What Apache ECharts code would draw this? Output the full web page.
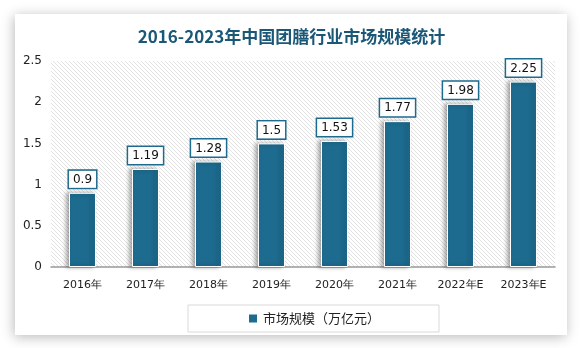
<!DOCTYPE html>
<html>
<head>
<meta charset="utf-8">
<script src="https://cdn.jsdelivr.net/npm/echarts@6/dist/echarts.min.js"></script>
<style>
  html, body { margin: 0; padding: 0; background: #ffffff; }
  #chart { width: 583px; height: 348px; }
</style>
</head>
<body>
<div id="chart"></div>
<script>
// Market size of China's group catering industry, 2016-2023 (E = estimate)
const categories = ['2016年', '2017年', '2018年', '2019年', '2020年', '2021年', '2022年E', '2023年E'];
const marketSize = [0.9, 1.19, 1.28, 1.5, 1.53, 1.77, 1.98, 2.25];
const yTicks = [0, 0.5, 1, 1.5, 2, 2.5];
const titleText = '2016-2023年中国团膳行业市场规模统计';
const seriesName = '市场规模（万亿元）';

const barColor = '#1d6b8f';

// Diagonal hatch fill for the plotting area
function hatchPattern() {
  const c = document.createElement('canvas');
  c.width = 4; c.height = 4;
  const ctx = c.getContext('2d');
  ctx.fillStyle = '#ffffff';
  ctx.fillRect(0, 0, 4, 4);
  ctx.fillStyle = '#e2e2e2';
  for (let i = 0; i < 4; i++) ctx.fillRect(i, i, 1, 1);
  return { image: c, repeat: 'repeat' };
}

const chart = echarts.init(document.getElementById('chart'), null, { renderer: 'canvas' });

chart.setOption({
  backgroundColor: '#ffffff',
  animation: false,
  graphic: [{
    type: 'rect',
    z: -10,
    silent: true,
    shape: { x: 15, y: 14, width: 552, height: 321 },
    style: {
      fill: '#ffffff',
      shadowBlur: 12,
      shadowColor: 'rgba(0,0,0,0.28)',
      shadowOffsetX: -1,
      shadowOffsetY: 2
    }
  }],
  title: {
    text: titleText,
    left: 'center',
    top: 23,
    textStyle: {
      fontFamily: 'Noto Sans CJK SC',
      fontSize: 17,
      fontWeight: 'bold',
      color: '#1b5878'
    }
  },
  legend: {
    data: [seriesName],
    left: 188,
    top: 305,
    width: 250,
    itemWidth: 10,
    itemHeight: 10,
    itemGap: 5,
    icon: 'rect',
    borderColor: '#d9d9d9',
    borderWidth: 1,
    padding: [7, 59, 7, 59],
    textStyle: { fontFamily: 'Noto Sans CJK SC', fontSize: 13, color: '#222' }
  },
  grid: {
    left: 51, right: 28, top: 61, bottom: 81,
    show: true,
    borderWidth: 0,
    backgroundColor: hatchPattern()
  },
  xAxis: {
    type: 'category',
    data: categories,
    axisLine: { lineStyle: { color: '#999', width: 1.5 } },
    axisTick: { show: false },
    axisLabel: { interval: 0, margin: 13, fontFamily: 'DejaVu Sans', fontSize: 11, color: '#222' }
  },
  yAxis: {
    type: 'value',
    min: yTicks[0],
    max: yTicks[yTicks.length - 1],
    interval: yTicks[1] - yTicks[0],
    axisLine: { show: false },
    axisTick: { show: false },
    splitLine: { show: false },
    axisLabel: { margin: 9, fontFamily: 'DejaVu Sans', fontSize: 12, color: '#222' }
  },
  series: [{
    name: seriesName,
    type: 'bar',
    data: marketSize,
    barWidth: 27,
    itemStyle: {
      color: barColor,
      borderColor: '#ffffff',
      borderWidth: 1,
      shadowColor: 'rgba(0,0,0,0.35)',
      shadowBlur: 4,
      shadowOffsetX: -3,
      shadowOffsetY: 0
    },
    label: {
      show: true,
      position: 'top',
      distance: 5,
      fontFamily: 'DejaVu Sans',
      fontSize: 12,
      color: '#111',
      backgroundColor: '#ffffff',
      borderColor: barColor,
      borderWidth: 1.5,
      padding: [3, 4, 2, 4]
    }
  }]
});
</script>
</body>
</html>
